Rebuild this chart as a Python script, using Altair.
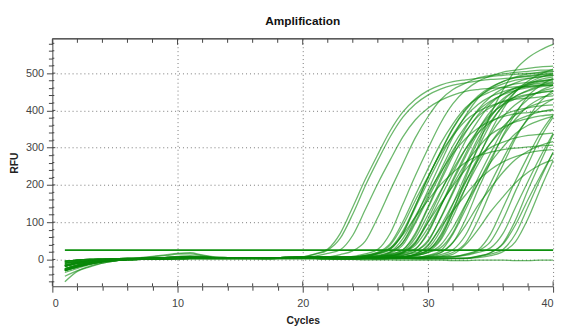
import altair as alt
import pandas as pd

# ---------------- data ----------------
# baseline variants, cycles 1..40
baselines = [
    [-25,-15,-8,-4,-2,0,1,2,3,3,4,4,4,3,3,3,4,4,4, 4,4,5,5,4,4,3,3,4,4,5,5,4,4,4,5,5,5,4,4,4],
    [-10,-6,-3,-1,0,1,2,3,4,5,5,5,4,4,4,5,5,5,5, 6,6,6,5,5,5,6,6,7,7,6,6,6,7,7,7,6,6,6,7,7],
    [-35,-24,-14,-7,-3,0,2,3,5,8,10,8,5,4,4,4,4,5,5, 5,5,4,4,4,3,3,3,4,4,4,3,3,3,4,4,4,3,3,3,3],
    [-18,-10,-5,-2,0,1,2,3,4,5,6,5,5,4,4,4,4,4,5, 5,6,6,7,7,8,8,8,7,7,8,8,8,8,9,9,8,8,8,9,9],
    [-5,-2,0,1,2,3,3,4,5,6,6,6,5,5,5,5,5,5,6, 6,5,5,4,4,3,2,2,2,1,1,1,2,2,2,1,1,1,2,2,2],
    [-45,-30,-18,-10,-4,1,4,7,10,14,15,10,6,5,4,4,4,5,5, 5,5,5,6,6,6,5,5,5,6,6,6,5,5,5,6,6,6,5,5,5],
    [-60,-32,-20,-10,-4,1,5,8,12,16,18,12,7,5,4,4,4,4,4, 4,3,3,3,2,2,2,3,3,3,4,4,4,3,3,3,3,4,4,4,4],
    [-28,-18,-10,-5,-2,0,1,2,3,4,4,4,4,3,3,3,3,3,4, 4,4,4,5,5,5,4,4,4,3,3,3,4,4,4,4,5,5,5,5,5],
    [-30,-20,-12,-6,-3,-1,0,1,2,2,3,3,3,3,3,3,3,3,3, 3,3,3,2,2,2,2,3,3,3,2,2,2,2,3,3,3,3,2,2,2],
    [-15,-9,-5,-3,-1,0,0,1,1,2,2,2,2,2,2,2,2,3,3, 3,3,2,2,2,3,3,3,4,4,4,3,3,3,4,4,4,5,5,5,5],
    [-20,-12,-6,-3,-1,0,1,1,2,2,3,3,2,2,2,2,1,1,1, 1,1,0,0,0,-1,-1,-1,-2,-2,-2,-2,-3,-3,-2,-2,-2,-3,-3,-2,-2],
]

# amplification above baseline, cycles 20..40
wells = ["E1","E1b","E2","E3",
         "A1","A2","A3","A4","A5","A6","A7","A8","A9","A10","A11","A12","A13","A14",
         "A15","A16","A17","A18",
         "B1","B2","B3","B4","B5","B6","B7","B8","B9","B10","B11","B12","B13","B14",
         "B15","B16","B17","B18","B19",
         "C1","C2","C3","C4","C5","C6","C7","NEG"]
variant = [0,3,1,3,
           4,7,8,9,0,1,2,3,4,7,8,9,0,1,
           3,4,7,8,
           3,4,5,7,8,9,0,1,3,6,4,7,8,9,
           0,1,3,4,7,
           0,1,3,4,7,8,9,10]
amp = [
    [3,11,23,65,137,211,279,343,392,426,448,463,473,478,482,486,489,492,495,497,500],
    [2,8,19,50,115,190,258,322,375,410,433,449,460,466,470,474,477,480,483,486,488],
    [0,3,10,21,60,129,198,262,322,368,400,421,435,444,449,452,455,457,458,460,460],
    [0,0,1,6,16,41,105,178,250,320,375,420,448,465,478,485,490,494,497,499,500],
    [0,0,0,0,4,12,25,69,146,224,296,364,416,452,476,491,502,507,511,515,517],
    [0,0,0,0,1,6,15,39,97,170,240,307,360,403,430,446,458,466,470,474,477],
    [0,0,0,0,0,5,14,36,88,156,220,282,330,370,394,409,420,427,431,434,437],
    [0,0,0,0,0,4,11,24,66,140,215,285,350,400,435,458,473,483,488,492,495],
    [0,0,0,0,0,2,8,18,52,112,172,228,280,320,348,366,378,386,390,393,396],
    [0,0,0,0,0,3,10,22,62,132,202,268,329,376,409,430,444,454,458,462,465],
    [0,0,0,0,0,1,6,16,42,107,181,255,326,383,428,456,474,487,495,500,503],
    [0,0,0,0,0,2,8,23,59,107,150,192,225,252,269,279,287,291,294,296,298],
    [0,0,0,0,0,1,5,14,37,96,162,228,291,341,382,407,423,434,441,446,449],
    [0,0,0,0,0,0,3,10,22,63,134,206,274,336,384,418,439,454,463,468,472],
    [0,0,0,0,0,0,2,9,19,55,118,181,239,294,336,365,384,397,405,410,413],
    [0,0,0,0,0,0,1,6,15,44,95,146,194,238,272,296,311,321,328,331,334],
    [0,0,0,0,0,0,1,6,16,40,103,174,245,314,368,412,439,456,468,475,480],
    [0,0,0,0,0,0,0,4,12,31,78,138,195,250,293,328,349,363,372,378,382],
    [0,0,0,0,0,3,11,23,69,137,211,279,343,392,426,448,463,473,478,482,485],
    [0,0,0,0,0,0,4,11,24,70,140,215,285,350,400,435,458,473,483,488,492],
    [0,0,0,0,0,1,5,15,42,99,167,235,301,353,395,421,437,449,456,461,464],
    [0,0,0,0,0,0,1,5,14,41,97,163,230,294,345,386,412,428,439,446,451],
    [0,0,0,0,0,0,0,3,10,22,62,132,202,268,329,376,409,430,444,454,458],
    [0,0,0,0,0,0,0,1,5,13,38,84,129,171,210,240,261,275,284,290,293],
    [0,0,0,0,0,0,0,1,6,16,41,105,178,250,320,375,420,448,465,478,485],
    [0,0,0,0,0,0,0,0,4,12,33,86,146,205,262,308,344,367,381,392,398],
    [0,0,0,0,0,0,0,0,3,10,22,63,133,204,271,333,380,413,435,449,458],
    [0,0,0,0,0,0,0,0,3,9,20,58,123,189,251,308,352,383,403,416,425],
    [0,0,0,0,0,0,0,0,2,8,20,50,126,213,300,384,450,504,537,558,573],
    [0,0,0,0,0,0,0,0,0,4,12,32,79,140,198,253,296,332,354,367,377],
    [0,0,0,0,0,0,0,0,0,3,11,23,64,136,209,276,340,388,422,444,458],
    [0,0,0,0,0,0,0,0,0,1,6,14,42,88,142,188,231,264,287,302,312],
    [0,0,0,0,0,0,0,0,0,1,6,17,43,105,185,260,333,390,437,465,484],
    [0,0,0,0,0,0,0,0,0,0,3,10,22,61,130,200,265,326,372,405,425],
    [0,0,0,0,0,0,0,0,0,0,0,5,12,37,77,125,165,203,232,252,265],
    [0,0,0,0,0,0,0,0,0,0,1,6,16,41,101,178,250,320,375,420,448],
    [0,0,0,0,0,0,0,3,11,23,69,137,211,279,343,392,426,448,463,473,478],
    [0,0,0,0,0,0,0,0,4,11,24,71,143,219,291,357,408,444,467,482,492],
    [0,0,0,0,0,0,0,1,6,15,43,101,170,240,307,360,403,430,446,458,466],
    [0,0,0,0,0,0,0,0,0,3,10,22,66,132,202,268,329,376,409,430,444],
    [0,0,0,0,0,0,0,0,2,7,17,48,111,188,265,339,398,445,474,493,506],
    [0,0,0,0,0,0,0,0,0,0,0,0,3,10,22,63,134,206,274,336,384],
    [0,0,0,0,0,0,0,0,0,0,0,0,1,6,16,41,101,178,250,320,375],
    [0,0,0,0,0,0,0,0,0,0,0,0,0,3,10,22,62,132,202,268,329],
    [0,0,0,0,0,0,0,0,0,0,0,0,0,1,6,17,43,105,185,260,333],
    [0,0,0,0,0,0,0,0,0,0,0,0,0,0,5,14,36,88,156,220,282],
    [0,0,0,0,0,0,0,0,0,0,0,0,0,0,4,11,24,66,140,215,285],
    [0,0,0,0,0,0,0,0,0,0,0,0,0,0,1,6,17,43,105,185,260],
    [0,0,0,0,0,0,0,0,0,0,0,0,0,0,0,0,0,0,0,0,0],
]
cycles = list(range(1, 41))
threshold_cycles = [1, 40]
threshold_rfu = [25, 25]
x_ticks = list(range(0, 41, 2))
y_ticks = list(range(-60, 581, 20))

# ---------------- build table ----------------
rows = []
for w, v, a in zip(wells, variant, amp):
    for i, c in enumerate(cycles):
        extra = a[c - 20] if c >= 20 else 0
        rows.append({"well": w, "cycle": c, "rfu": baselines[v][i] + extra})
df = pd.DataFrame(rows)
thr = pd.DataFrame({"cycle": threshold_cycles, "rfu": threshold_rfu})
xt = pd.DataFrame({"cycle": x_ticks})
xt["major"] = xt["cycle"] % 10 == 0
yt = pd.DataFrame({"rfu": y_ticks})
yt["major"] = yt["rfu"] % 100 == 0

W, H = 508, 251
FONT = "Liberation Sans"
AX = "#444444"

xs = alt.Scale(domain=[0, 40], nice=False, zero=False)
ys = alt.Scale(domain=[-72, 592], nice=False, zero=False)

xaxis = alt.Axis(
    values=x_ticks, labelExpr="datum.value % 10 === 0 ? datum.label : ''",
    labelOverlap=False, labelFont=FONT, labelFontSize=11, labelColor=AX,
    labelPadding=6,
    tickSize={"condition": {"test": "datum.value % 10 === 0", "value": 6}, "value": 4},
    tickColor=AX, domainColor=AX, domainWidth=1,
    grid=True, gridDash=[1, 3], gridColor="#777777",
    gridOpacity={"condition": {"test": "datum.value % 10 === 0 && datum.value > 0", "value": 1}, "value": 0},
    title="Cycles", titleFont=FONT, titleFontSize=10.5, titleFontWeight="bold",
    titleColor="#222222", titlePadding=7,
)
yaxis = alt.Axis(
    values=y_ticks, labelExpr="datum.value % 100 === 0 ? datum.label : ''",
    labelOverlap=False, labelFont=FONT, labelFontSize=11, labelColor=AX,
    labelPadding=3,
    tickSize={"condition": {"test": "datum.value % 100 === 0", "value": 6}, "value": 4},
    tickColor=AX, domainColor=AX, domainWidth=1,
    grid=True, gridDash=[1, 3], gridColor="#777777",
    gridOpacity={"condition": {"test": "datum.value % 100 === 0", "value": 1}, "value": 0},
    title="RFU", titleFont=FONT, titleFontSize=10.5, titleFontWeight="bold",
    titleColor="#222222", titlePadding=6,
)

X = alt.X("cycle:Q", scale=xs, axis=xaxis)
Y = alt.Y("rfu:Q", scale=ys, axis=yaxis)

curves = alt.Chart(df).mark_line(
    color="#0a880a", strokeWidth=1.3, opacity=0.6, interpolate="monotone"
).encode(x=X, y=Y, detail="well:N")

threshold = alt.Chart(thr).mark_line(color="#0e900e", strokeWidth=2).encode(x=X, y=Y)

top_line = alt.Chart(thr).mark_rule(color=AX, strokeWidth=1).encode(
    x=alt.value(0), x2=alt.value(W), y=alt.value(0))

top_major = alt.Chart(xt[xt.major]).mark_rule(color=AX).encode(
    x=X, y=alt.value(0), y2=alt.value(6))
top_minor = alt.Chart(xt[~xt.major]).mark_rule(color=AX).encode(
    x=X, y=alt.value(0), y2=alt.value(4))
bot_major = alt.Chart(xt[xt.major]).mark_rule(color=AX).encode(
    x=X, y=alt.value(H), y2=alt.value(H - 5))
bot_minor = alt.Chart(xt[~xt.major]).mark_rule(color=AX).encode(
    x=X, y=alt.value(H), y2=alt.value(H - 3))
left_major = alt.Chart(yt[yt.major]).mark_rule(color=AX).encode(
    y=Y, x=alt.value(0), x2=alt.value(3))
left_minor = alt.Chart(yt[~yt.major]).mark_rule(color=AX).encode(
    y=Y, x=alt.value(0), x2=alt.value(2))

chart = alt.layer(
    curves, threshold, top_line, top_major, top_minor, bot_major, bot_minor,
    left_major, left_minor
).properties(
    width=W, height=H,
    title=alt.TitleParams("Amplification", font=FONT, fontSize=12, fontWeight="bold",
                          color="#111111", anchor="middle", offset=10),
    autosize=alt.AutoSizeParams(type="none"),
    padding={"left": 45, "top": 29, "right": 7, "bottom": 38},
).configure_view(stroke=None)

chart.save("out.html", embed_options={"renderer": "svg", "actions": False})

# keep the page from showing scrollbars
with open("out.html", encoding="utf-8") as f:
    html = f.read()
html = html.replace("<head>", "<head><style>html,body{overflow:hidden}</style>", 1)
with open("out.html", "w", encoding="utf-8") as f:
    f.write(html)
